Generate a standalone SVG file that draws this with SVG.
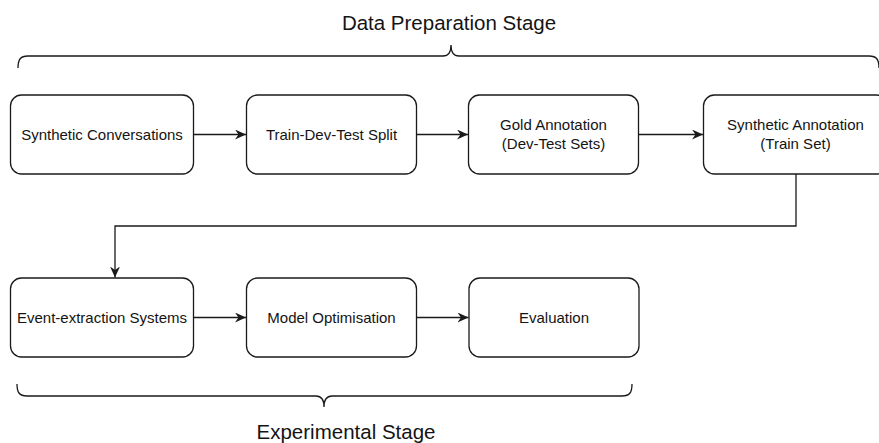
<svg xmlns="http://www.w3.org/2000/svg" width="879" height="443" viewBox="0 0 879 443">
<style>
.box{fill:#fff;stroke:#1a1a1a;stroke-width:1.3}
.lbl{font-family:"Liberation Sans",Arial,sans-serif;font-size:15px;fill:#141414;text-anchor:middle}
.title{font-family:"Liberation Sans",Arial,sans-serif;font-size:20.5px;fill:#141414;text-anchor:middle}
.edge{fill:none;stroke:#1a1a1a;stroke-width:1.3}
.brace{fill:none;stroke:#1a1a1a;stroke-width:1.3}
</style>
<defs>
<marker id="arr" markerUnits="userSpaceOnUse" markerWidth="13" markerHeight="12" refX="11" refY="5" orient="auto">
<path d="M0,0 L11,5 L0,10 L3.5,5 Z" fill="#1a1a1a"/>
</marker>
</defs>
<rect width="879" height="443" fill="#fff"/>
<g id="braces">
<path class="brace" d="M18,68 C18,60 20,56 28,56 L443,56 C449,56 451,52 451,45 C451,52 453,56 459,56 L869,56 C877,56 879,60 879,68"/>
<path class="brace" d="M17,384 C17,392 19,396 27,396 L316,396 C322,396 324,400 324,407 C324,400 326,396 332,396 L622,396 C630,396 632,392 632,384"/>
</g>
<g id="title-data"><text class="title" x="449" y="30">Data Preparation Stage</text></g>
<g id="title-exp"><text class="title" x="346" y="439">Experimental Stage</text></g>
<g id="n1"><rect class="box" x="10.5" y="95" width="183" height="79" rx="11"/><text class="lbl" x="102" y="139.5">Synthetic Conversations</text></g>
<g id="n2"><rect class="box" x="246.5" y="95" width="170" height="79" rx="11"/><text class="lbl" x="331.5" y="139.5">Train-Dev-Test Split</text></g>
<g id="n3"><rect class="box" x="468.5" y="95" width="170" height="79" rx="11"/><text class="lbl" x="553.5" y="130">Gold Annotation</text><text class="lbl" x="553.5" y="149">(Dev-Test Sets)</text></g>
<g id="n4"><rect class="box" x="703.5" y="95" width="184" height="79" rx="11"/><text class="lbl" x="795.5" y="130">Synthetic Annotation</text><text class="lbl" x="795.5" y="149">(Train Set)</text></g>
<g id="n5"><rect class="box" x="10.5" y="278" width="183" height="79" rx="11"/><text class="lbl" x="102" y="322.5">Event-extraction Systems</text></g>
<g id="n6"><rect class="box" x="246.5" y="278" width="170" height="79" rx="11"/><text class="lbl" x="331.5" y="322.5">Model Optimisation</text></g>
<g id="n7"><rect class="box" x="469" y="278" width="170" height="79" rx="11"/><text class="lbl" x="554" y="322.5">Evaluation</text></g>
<g id="connectors">
<path class="edge" d="M193.5,134.5 L246,134.5" marker-end="url(#arr)"/>
<path class="edge" d="M416.5,134.5 L468,134.5" marker-end="url(#arr)"/>
<path class="edge" d="M638.5,134.5 L703,134.5" marker-end="url(#arr)"/>
<path class="edge" d="M796,174 L796,226 L115,226 L115,277.5" marker-end="url(#arr)"/>
<path class="edge" d="M193.5,317.5 L246,317.5" marker-end="url(#arr)"/>
<path class="edge" d="M416.5,317.5 L468.5,317.5" marker-end="url(#arr)"/>
</g>
</svg>
